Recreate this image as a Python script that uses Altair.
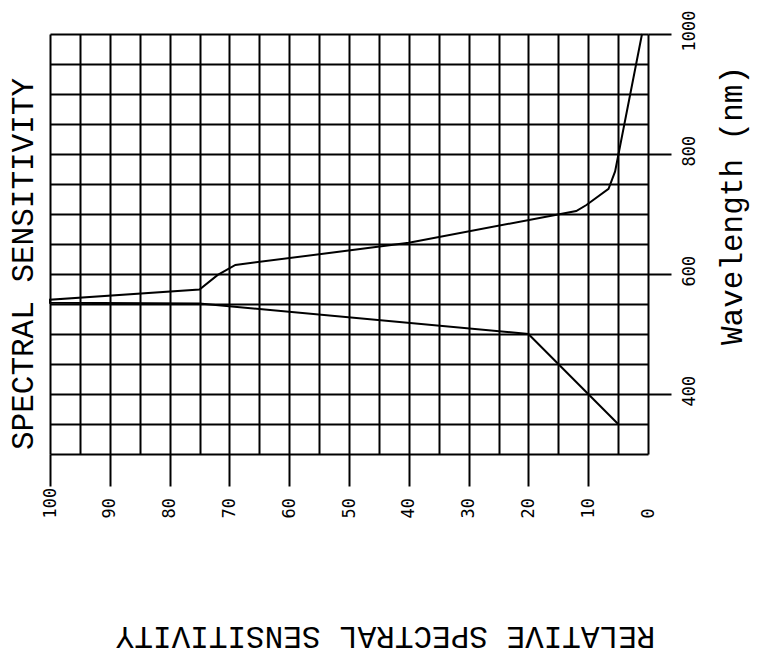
import altair as alt
import pandas as pd

# ---- data ----
wavelength_nm = [350, 400, 450, 500, 551, 552, 557, 574, 598, 615, 652, 705, 715, 742, 771, 1000]
relative_sensitivity = [5, 10, 15, 20, 75, 100, 100, 75, 72, 69, 40, 12, 10.3, 6.6, 5.5, 1]

x_grid_values = list(range(0, 101, 5))
y_grid_values = list(range(300, 1001, 50))
x_label_values = [100, 90, 80, 70, 60, 50, 40, 30, 20, 10, 0]
y_label_values = [400, 600, 800, 1000]

left_title = "SPECTRAL SENSITIVITY"
x_title = "RELATIVE SPECTRAL SENSITIVITY"
y_title = "Wavelength (nm)"

FONT = "DejaVu Sans Mono"
TITLE_FONT = "Liberation Mono"

df = pd.DataFrame({
    "seq": list(range(len(wavelength_nm))),
    "wl": wavelength_nm,
    "sens": relative_sensitivity,
})

x_lbl = ",".join(str(v) for v in x_label_values if v != 0)
y_lbl = ",".join(str(v) for v in y_label_values)

x_axis = alt.Axis(
    orient="bottom",
    values=x_grid_values,
    format="d",
    title=x_title,
    titleAngle=180,
    titleX=335,
    titleY=172,
    titleAlign="center",
    titleBaseline="alphabetic",
    titleFont=TITLE_FONT,
    titleFontSize=31,
    titleFontWeight="normal",
    titleColor="black",
    labelExpr=f"datum.value == 0 ? ' 0' : (indexof([{x_lbl}], datum.value) >= 0 ? datum.label : '')",
    labelAngle=270,
    labelAlign="left",
    labelBaseline="middle",
    labelFont=FONT,
    labelFontSize=17,
    labelColor="black",
    labelPadding=32,
    labelOverlap=False,
    labelBound=False,
    labelFlush=False,
    tickSize=32,
    tickWidth=2,
    tickColor="black",
    tickOpacity={"condition": {"test": f"indexof([{x_lbl}], datum.value) < 0", "value": 0}, "value": 1},
    grid=True,
    gridColor="black",
    gridWidth=2,
    gridOpacity=1,
    domain=False,
)

y_axis = alt.Axis(
    orient="right",
    values=y_grid_values,
    format="d",
    title=y_title,
    titleAngle=270,
    titleX=93,
    titleY=171,
    titleAlign="center",
    titleBaseline="alphabetic",
    titleFont=TITLE_FONT,
    titleFontSize=31,
    titleFontWeight="normal",
    titleColor="black",
    labelExpr=f"indexof([{y_lbl}], datum.value) >= 0 ? datum.label : ''",
    labelAngle=270,
    labelAlign="left",
    labelBaseline="middle",
    labelOffset={"condition": {"test": "datum.value == 1000", "value": 17}, "value": 12},
    labelFont=FONT,
    labelFontSize=17,
    labelColor="black",
    labelPadding=18,
    labelOverlap=False,
    labelBound=False,
    labelFlush=False,
    tickSize=23,
    tickWidth=2,
    tickColor="black",
    tickOpacity={"condition": {"test": f"indexof([{y_lbl}], datum.value) < 0", "value": 0}, "value": 1},
    grid=True,
    gridColor="black",
    gridWidth=2,
    gridOpacity=1,
    domain=False,
)

line = alt.Chart(df).mark_line(color="black", strokeWidth=2).encode(
    x=alt.X("sens:Q", scale=alt.Scale(domain=[0, 100], reverse=True, nice=False, zero=False), axis=x_axis),
    y=alt.Y("wl:Q", scale=alt.Scale(domain=[300, 1000], nice=False, zero=False), axis=y_axis),
    order="seq:Q",
)

left_text = alt.Chart(pd.DataFrame({"t": [left_title]})).mark_text(
    angle=270, align="center", baseline="alphabetic", font=TITLE_FONT, fontSize=31, color="black"
).encode(x=alt.value(-17), y=alt.value(230), text="t:N")

chart = alt.layer(line, left_text).properties(
    width=598,
    height=420,
    autosize=alt.AutoSizeParams(type="none"),
    padding={"left": 42, "top": 26, "right": 102, "bottom": 205},
    background="white",
).configure_view(stroke=None)

chart.save("out.html", embed_options={"renderer": "svg", "actions": False})
